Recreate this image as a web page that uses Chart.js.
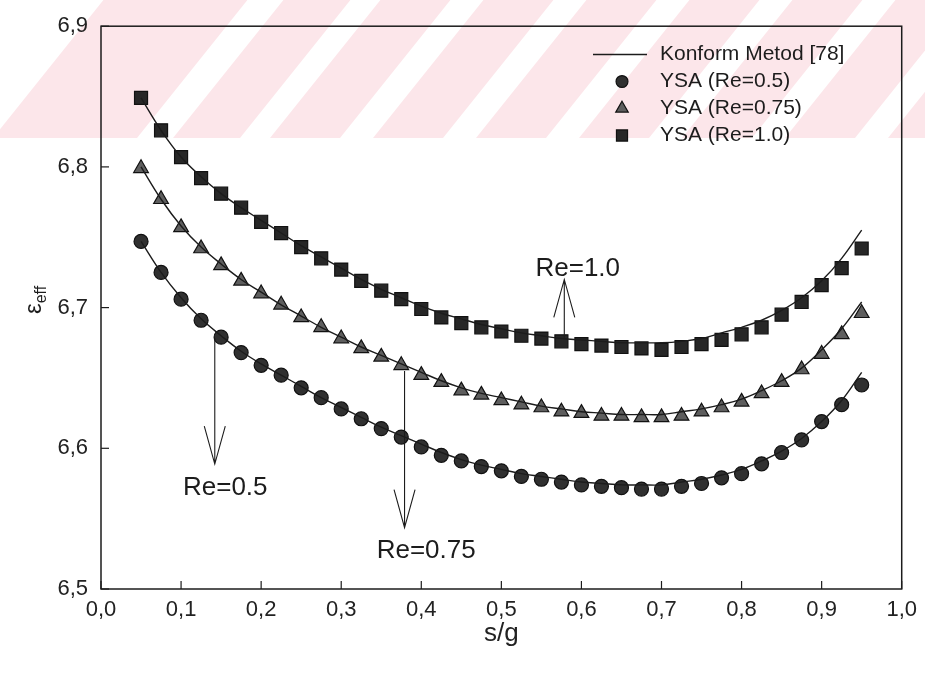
<!DOCTYPE html>
<html>
<head>
<meta charset="utf-8">
<script src="https://cdn.jsdelivr.net/npm/chart.js@4.4.1/dist/chart.umd.min.js"></script>
<style>
  html, body { margin: 0; padding: 0; background: #ffffff; }
  #wrap { width: 925px; height: 678px; position: relative; }
</style>
</head>
<body>
<div id="wrap"><canvas id="c" width="925" height="678"></canvas></div>
<script>
// s/g positions of the computed points
const sgValues = [0.05, 0.075, 0.1, 0.125, 0.15, 0.175, 0.2, 0.225, 0.25, 0.275,
                  0.3, 0.325, 0.35, 0.375, 0.4, 0.425, 0.45, 0.475, 0.5, 0.525,
                  0.55, 0.575, 0.6, 0.625, 0.65, 0.675, 0.7, 0.725, 0.75, 0.775,
                  0.8, 0.825, 0.85, 0.875, 0.9, 0.925, 0.95];

// Conformal mapping method [78]
const konformRe05 = [6.747, 6.725, 6.707, 6.692, 6.680, 6.669, 6.660, 6.652, 6.644, 6.636,
                     6.629, 6.622, 6.615, 6.609, 6.603, 6.597, 6.592, 6.588, 6.585, 6.582,
                     6.580, 6.578, 6.576, 6.575, 6.574, 6.574, 6.574, 6.576, 6.578, 6.581,
                     6.585, 6.591, 6.598, 6.607, 6.619, 6.634, 6.654];
const konformRe075 = [6.800, 6.777, 6.758, 6.743, 6.731, 6.720, 6.711, 6.702, 6.694, 6.686,
                      6.679, 6.672, 6.666, 6.660, 6.654, 6.648, 6.643, 6.639, 6.636, 6.633,
                      6.630, 6.628, 6.626, 6.625, 6.624, 6.624, 6.624, 6.626, 6.628, 6.631,
                      6.635, 6.641, 6.648, 6.657, 6.670, 6.685, 6.704];
const konformRe10 = [6.849, 6.826, 6.807, 6.793, 6.781, 6.771, 6.762, 6.753, 6.744, 6.736,
                     6.728, 6.720, 6.713, 6.707, 6.701, 6.696, 6.692, 6.688, 6.685, 6.682,
                     6.680, 6.678, 6.677, 6.676, 6.675, 6.675, 6.675, 6.676, 6.678, 6.682,
                     6.686, 6.691, 6.698, 6.707, 6.719, 6.735, 6.755];

// Neural network (YSA) results
const ysaRe05 = [6.747, 6.725, 6.706, 6.691, 6.679, 6.668, 6.659, 6.652, 6.643, 6.636,
                 6.628, 6.621, 6.614, 6.608, 6.601, 6.595, 6.591, 6.587, 6.584, 6.580,
                 6.578, 6.576, 6.574, 6.573, 6.572, 6.571, 6.571, 6.573, 6.575, 6.579,
                 6.582, 6.589, 6.597, 6.606, 6.619, 6.631, 6.645];
const ysaRe075 = [6.799, 6.777, 6.757, 6.742, 6.730, 6.719, 6.710, 6.702, 6.693, 6.686,
                  6.678, 6.671, 6.665, 6.659, 6.652, 6.647, 6.641, 6.638, 6.634, 6.631,
                  6.629, 6.626, 6.625, 6.623, 6.623, 6.622, 6.622, 6.623, 6.626, 6.629,
                  6.633, 6.639, 6.647, 6.656, 6.667, 6.681, 6.696];
const ysaRe10 = [6.849, 6.826, 6.807, 6.792, 6.781, 6.771, 6.761, 6.753, 6.743, 6.735,
                 6.727, 6.719, 6.712, 6.706, 6.699, 6.693, 6.689, 6.686, 6.683, 6.680,
                 6.678, 6.676, 6.674, 6.673, 6.672, 6.671, 6.670, 6.672, 6.674, 6.677,
                 6.681, 6.686, 6.695, 6.704, 6.716, 6.728, 6.742];

// Axis ticks
const xTickValues = [0.0, 0.1, 0.2, 0.3, 0.4, 0.5, 0.6, 0.7, 0.8, 0.9, 1.0];
const yTickValues = [6.5, 6.6, 6.7, 6.8, 6.9];

// Curve labels with arrows (data coordinates)
const curveLabels = ['Re=1.0', 'Re=0.5', 'Re=0.75'];
const labelX = [0.5954, 0.1552, 0.4061];
const labelY = [6.7274, 6.5719, 6.5274];
const arrowX = [0.5786, 0.1421, 0.3791];
const arrowFrom = [6.6785, 6.6784, 6.6549];
const arrowTo = [6.7200, 6.5888, 6.5436];

const FONT = "'Liberation Sans', Arial, Helvetica, sans-serif";
const INK = '#1c1c1c';

const pts = (ys) => sgValues.map((x, i) => ({ x: x, y: ys[i] }));
const commaFmt = (v) => Number(v).toFixed(1).replace('.', ',');

function lineSet(label, ys) {
  return {
    label: label, data: pts(ys), showLine: true, borderColor: INK, borderWidth: 1.4,
    pointRadius: 0, tension: 0.4, fill: false, order: 0
  };
}
function markerSet(label, ys, style, radius, fillCol) {
  return {
    label: label, data: pts(ys), showLine: false, pointStyle: style, pointRadius: radius,
    pointBackgroundColor: fillCol, pointBorderColor: '#111111', pointBorderWidth: 1.2, order: 1
  };
}

const datasets = [
  lineSet('Konform Metod [78]', konformRe10),
  markerSet('YSA (Re=0.5)', ysaRe05, 'circle', 7, '#303030'),
  markerSet('YSA (Re=0.75)', ysaRe075, 'triangle', 8.5, '#5e5e5e'),
  markerSet('YSA (Re=1.0)', ysaRe10, 'rect', 9.2, '#272727'),
  lineSet('', konformRe075),
  lineSet('', konformRe05)
];

// Diagonal stamp across the top band of the page
const stampPlugin = {
  id: 'stamp',
  beforeDraw(chart) {
    const ctx = chart.ctx;
    const bandH = 138;
    const slope = 0.8;
    ctx.save();
    ctx.beginPath();
    ctx.rect(0, 0, chart.width, bandH);
    ctx.clip();
    ctx.fillStyle = '#fce6ea';
    // pink slanted bars: [left edge at the band bottom, width]
    const bars = [[-7, 144], [173, 67], [270, 70], [373, 70], [476, 70], [579, 70],
                  [682, 70], [785, 70], [888, 70]];
    bars.forEach(([x0, w]) => {
      ctx.beginPath();
      ctx.moveTo(x0, bandH);
      ctx.lineTo(x0 + w, bandH);
      ctx.lineTo(x0 + w + bandH * slope, 0);
      ctx.lineTo(x0 + bandH * slope, 0);
      ctx.closePath();
      ctx.fill();
    });
    ctx.restore();
  }
};

// Frame, inward ticks, legend, axis symbol and curve labels
const decorPlugin = {
  id: 'decor',
  afterDatasetsDraw(chart) {
    const ctx = chart.ctx;
    const a = chart.chartArea;
    const xs = chart.scales.x, ys = chart.scales.y;
    ctx.save();
    ctx.strokeStyle = INK;
    ctx.lineWidth = 1.5;
    ctx.strokeRect(a.left, a.top, a.right - a.left, a.bottom - a.top);
    ctx.lineWidth = 1.2;
    xTickValues.forEach(v => {
      const px = xs.getPixelForValue(v);
      ctx.beginPath(); ctx.moveTo(px, a.bottom); ctx.lineTo(px, a.bottom - 8); ctx.stroke();
    });
    yTickValues.forEach(v => {
      const py = ys.getPixelForValue(v);
      ctx.beginPath(); ctx.moveTo(a.left, py); ctx.lineTo(a.left + 8, py); ctx.stroke();
    });

    // legend
    const rows = [54.5, 81.5, 108.5, 135.5];
    const mx = 622, tx = 660;
    ctx.font = '21px ' + FONT;
    ctx.fillStyle = INK;
    ctx.textAlign = 'left';
    ctx.textBaseline = 'middle';
    ctx.lineWidth = 1.4;
    ctx.beginPath(); ctx.moveTo(593, rows[0]); ctx.lineTo(647, rows[0]); ctx.stroke();
    ctx.fillText(datasets[0].label, tx, rows[0]);
    for (let i = 1; i <= 3; i++) {
      const d = datasets[i];
      ctx.fillStyle = d.pointBackgroundColor;
      ctx.strokeStyle = '#111111';
      ctx.lineWidth = 1.2;
      const opts = { pointStyle: d.pointStyle, radius: d.pointRadius * 0.85, rotation: 0, borderWidth: 1.2 };
      Chart.helpers.drawPoint(ctx, opts, mx, rows[i]);
      ctx.fillStyle = INK;
      ctx.fillText(d.label, tx, rows[i]);
    }

    // curve labels and arrows
    ctx.strokeStyle = INK;
    ctx.lineWidth = 1.1;
    ctx.font = '26px ' + FONT;
    ctx.textAlign = 'center';
    ctx.textBaseline = 'middle';
    curveLabels.forEach((t, i) => {
      const px = xs.getPixelForValue(arrowX[i]);
      const p0 = ys.getPixelForValue(arrowFrom[i]);
      const p1 = ys.getPixelForValue(arrowTo[i]);
      const dir = p1 < p0 ? 1 : -1;
      ctx.beginPath();
      ctx.moveTo(px, p0); ctx.lineTo(px, p1);
      ctx.moveTo(px - 10.5, p1 + dir * 38); ctx.lineTo(px, p1); ctx.lineTo(px + 10.5, p1 + dir * 38);
      ctx.stroke();
      ctx.fillText(t, xs.getPixelForValue(labelX[i]), ys.getPixelForValue(labelY[i]));
    });

    // y axis symbol: epsilon with subscript "eff"
    ctx.translate(33, 300);
    ctx.rotate(-Math.PI / 2);
    ctx.textAlign = 'left';
    ctx.textBaseline = 'alphabetic';
    ctx.font = '24px ' + FONT;
    ctx.fillText('\u03b5', -14, 8);
    const w = ctx.measureText('\u03b5').width;
    ctx.font = '16px ' + FONT;
    ctx.fillText('eff', -14 + w, 13);
    ctx.restore();
  }
};

new Chart(document.getElementById('c'), {
  type: 'scatter',
  data: { datasets: datasets },
  options: {
    responsive: false,
    animation: false,
    devicePixelRatio: 1,
    layout: { autoPadding: false, padding: { top: 14.5, right: 22, left: 0, bottom: 0 } },
    plugins: { legend: { display: false }, tooltip: { enabled: false } },
    scales: {
      x: {
        type: 'linear', min: 0, max: 1,
        afterFit(s) { s.height = 89; },
        afterBuildTicks(s) { s.ticks = xTickValues.map(v => ({ value: v })); },
        grid: { display: false, drawTicks: false },
        border: { display: false },
        ticks: { padding: 8, color: '#222222', font: { family: FONT, size: 22 }, maxRotation: 0,
                 callback: (v) => commaFmt(v) },
        title: { display: true, text: 's/g', color: '#222222', font: { family: FONT, size: 26 },
                 padding: { top: 0, bottom: 29 } }
      },
      y: {
        type: 'linear', min: 6.5, max: 6.9,
        afterFit(s) { s.width = 101; },
        afterBuildTicks(s) { s.ticks = yTickValues.map(v => ({ value: v })); },
        grid: { display: false, drawTicks: false },
        border: { display: false },
        ticks: { padding: 13, color: '#222222', font: { family: FONT, size: 22 },
                 callback: (v) => commaFmt(v) }
      }
    }
  },
  plugins: [stampPlugin, decorPlugin]
});
</script>
</body>
</html>
